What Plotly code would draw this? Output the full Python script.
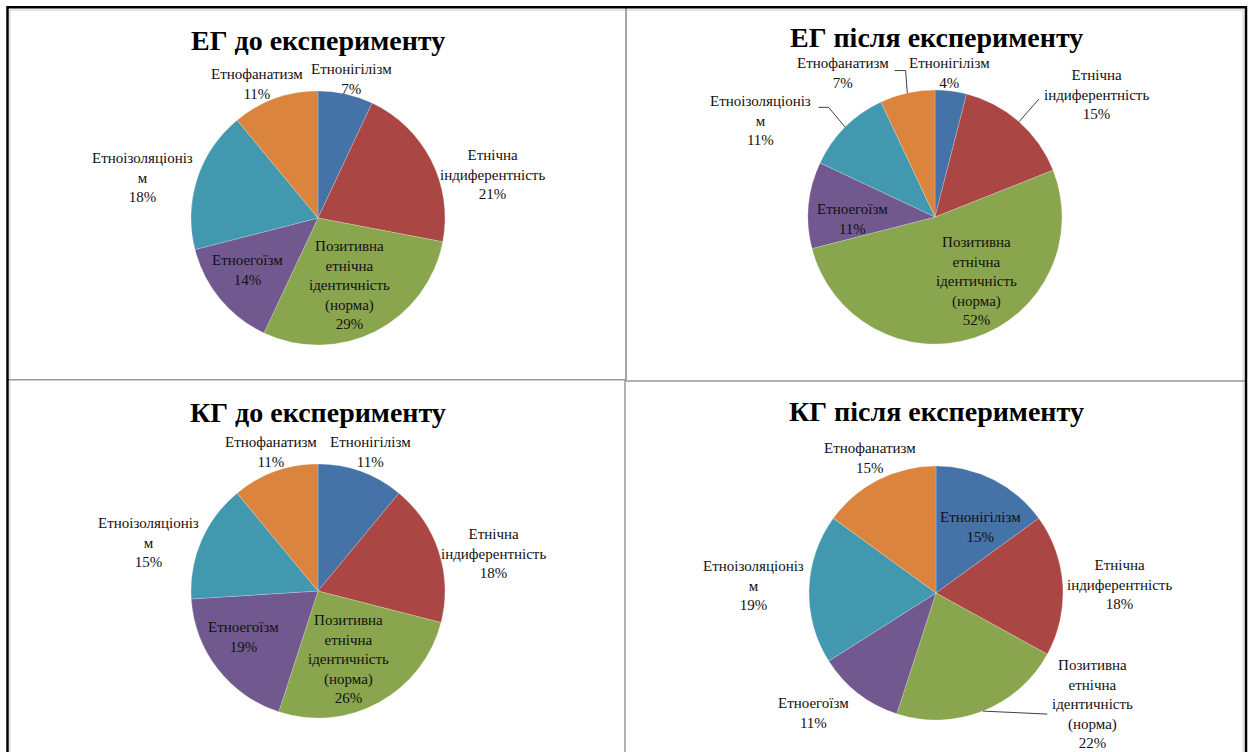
import math
import plotly.graph_objects as go

# ---------------- data ----------------
categories = ["Етнонігілізм", "Етнічна індиферентність",
              "Позитивна етнічна ідентичність (норма)", "Етноегоїзм",
              "Етноізоляціонізм", "Етнофанатизм"]
label_lines = ["Етнонігілізм", "Етнічна<br>індиферентність",
               "Позитивна<br>етнічна<br>ідентичність<br>(норма)", "Етноегоїзм",
               "Етноізоляціоніз<br>м", "Етнофанатизм"]
titles = ["ЕГ до експерименту", "ЕГ після експерименту",
          "КГ до експерименту", "КГ після експерименту"]
eg_before = [7, 21, 29, 14, 18, 11]
eg_after = [4, 15, 52, 11, 11, 7]
kg_before = [11, 18, 26, 19, 15, 11]
kg_after = [15, 18, 22, 11, 19, 15]
series = [eg_before, eg_after, kg_before, kg_after]

# ---------------- style ----------------
W, H = 1251, 752
colors = ["#4572A7", "#AA4643", "#89A54E", "#71588F", "#4198AF", "#DB843D"]
FONT = "Liberation Serif, Times New Roman, serif"
R = 127
centers = [(318, 218), (935, 217), (318, 591), (936, 593)]
title_pos = [(318, 40), (936, 38), (318, 412), (936, 411)]
# label placement: (angle offset from slice mid-angle in deg, radius factor)
label_place = [
    [(1, 1.13), (13, 1.42), (2, 0.58), (3.4, 0.69), (-5, 1.42), (-4.5, 1.16)],
    [(-1.3, 1.14), (11.4, 1.60), (-15, 0.60), (-6.8, 0.65), (-16, 1.57), (-20, 1.35)],
    [(1, 1.17), (6, 1.41), (4.6, 0.59), (6.3, 0.69), (-7.4, 1.39), (1, 1.16)],
    [(7, 0.63), (0.8, 1.45), (-33, 1.51), (8, 1.35), (0.4, 1.44), (1, 1.18)],
]
# leader lines: (panel, slice, attach points relative to label centre in px)
leaders = [
    (1, 5, [(52, -2), (63, -2)]),
    (1, 4, [(58, -13), (68, -13)]),
    (1, 1, [(-58, 5)]),
    (3, 2, [(-45, 10)]),
]


def px(x, y):
    return x / W, 1 - y / H


fig = go.Figure()
annotations = []
shapes = []
mid_angles = []

for i, vals in enumerate(series):
    cx, cy = centers[i]
    x0, y1 = px(cx - R, cy - R)
    x1, y0 = px(cx + R, cy + R)
    fig.add_trace(go.Pie(
        labels=categories, values=vals, sort=False, direction="clockwise",
        rotation=0, textinfo="none", showlegend=False,
        marker=dict(colors=colors, line=dict(color="rgba(255,255,255,0.35)", width=0.6)),
        domain=dict(x=[x0, x1], y=[y0, y1]),
    ))
    total = sum(vals)
    cum = 0
    mids = []
    for j, v in enumerate(vals):
        mid = (cum + v / 2) / total * 360
        mids.append(mid)
        cum += v
        d, f = label_place[i][j]
        th = math.radians(mid + d)
        lx = cx + f * R * math.sin(th)
        ly = cy - f * R * math.cos(th)
        ax, ay = px(lx, ly)
        annotations.append(dict(
            x=ax, y=ay, xref="paper", yref="paper", xanchor="center", yanchor="middle",
            text=f"{label_lines[j]}<br>{v}%", showarrow=False, align="center",
            font=dict(family=FONT, size=15, color="#111111")))
    mid_angles.append(mids)
    tx, ty = px(*title_pos[i])
    annotations.append(dict(
        x=tx, y=ty, xref="paper", yref="paper", xanchor="center", yanchor="middle",
        text=f"<b>{titles[i]}</b>", showarrow=False,
        font=dict(family=FONT, size=28, color="#000000")))

# leader lines
for (i, j, pts) in leaders:
    cx, cy = centers[i]
    d, f = label_place[i][j]
    th_l = math.radians(mid_angles[i][j] + d)
    lx = cx + f * R * math.sin(th_l)
    ly = cy - f * R * math.cos(th_l)
    th = math.radians(mid_angles[i][j])
    ex = cx + R * math.sin(th)
    ey = cy - R * math.cos(th)
    path_pts = [(lx + dx, ly + dy) for dx, dy in pts] + [(ex, ey)]
    path = ""
    for k, (x, y) in enumerate(path_pts):
        qx, qy = px(x, y)
        path += ("M" if k == 0 else " L") + f"{qx:.5f},{qy:.5f}"
    shapes.append(dict(type="path", xref="paper", yref="paper", path=path,
                       line=dict(color="#404040", width=1)))

# panel borders


def line(xa, ya, xb, yb, color, width):
    p0 = px(xa, ya)
    p1 = px(xb, yb)
    shapes.append(dict(type="line", xref="paper", yref="paper",
                       x0=p0[0], y0=p0[1], x1=p1[0], y1=p1[1],
                       line=dict(color=color, width=width)))


line(10, 10, 10, 760, "#cfcfcf", 1)
line(10, 10, 1243, 10, "#cfcfcf", 1)
line(1243, 10, 1243, 760, "#cfcfcf", 1)
line(626, 8, 626, 380, "#888888", 1.5)
line(625, 380, 625, 760, "#999999", 1.5)
line(8, 379.7, 626, 379.7, "#999999", 1.5)
line(626, 381, 1245, 381, "#999999", 1.5)
line(7.5, 6.5, 7.5, 760, "#000000", 2.5)
line(6.5, 7.3, 1247, 7.3, "#000000", 2.5)
line(1246, 6.5, 1246, 760, "#000000", 2.5)

fig.update_layout(
    width=W, height=H, margin=dict(l=0, r=0, t=0, b=0),
    paper_bgcolor="white", plot_bgcolor="white",
    annotations=annotations, shapes=shapes,
)

fig.write_html("out.html", config={"displayModeBar": False},
               post_script="document.body.style.margin='0px';")
